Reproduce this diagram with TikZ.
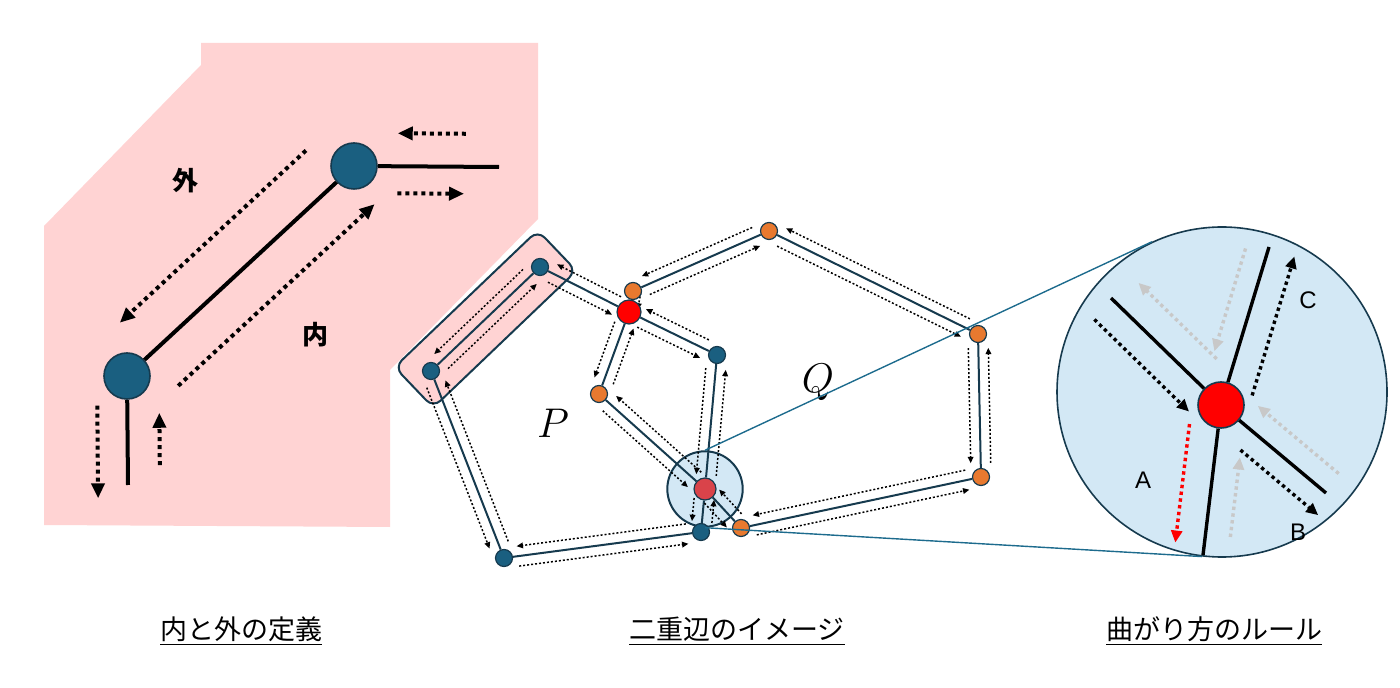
\documentclass[tikz,border=0pt]{standalone}
\usepackage{fontspec}
\usepackage{xcolor}
\usepackage{tikz}
\usetikzlibrary{arrows.meta, calc, positioning, backgrounds}

\newfontfamily\jp{Noto Sans CJK JP}
\newfontfamily\lat{Liberation Sans}

\definecolor{blush}{HTML}{FFD3D3}
\definecolor{vblue}{HTML}{1A5F80}
\definecolor{vline}{HTML}{163A4E}
\definecolor{vorange}{HTML}{E8792F}
\definecolor{hubred}{HTML}{FF0000}
\definecolor{lensred}{HTML}{D9434A}
\definecolor{lensblue}{HTML}{D3E8F5}
\definecolor{zoomline}{HTML}{1D6B8D}
\definecolor{ghost}{HTML}{C8C8C8}

\pgfdeclarelayer{paper}
\pgfdeclarelayer{wires}
\pgfsetlayers{paper,wires,main}

% pair of opposite dotted arrows along an edge
\newcommand{\twin}[3][7pt]{%
  \draw[trail, shorten <=#1, shorten >=#1] ($(#2)!5pt!-90:(#3)$) -- ($(#3)!5pt!90:(#2)$);
  \draw[trail, shorten <=#1, shorten >=#1] ($(#3)!5pt!-90:(#2)$) -- ($(#2)!5pt!90:(#3)$);}
% one dotted arrow beside a line: style, from, to, start, end, offset
\newcommand{\lane}[6]{%
  \draw[#1] ($(#2)!#4!(#3)!#6!90:(#2)$) -- ($(#2)!#5!(#3)!#6!90:(#2)$);}

\begin{document}
\begin{tikzpicture}[x=0.5pt, y=-0.5pt,
    stroke/.style={line width=2pt, black},
    bigtrail/.style={line width=2pt, dash pattern=on 2pt off 2pt, -{Triangle[length=7.5pt,width=6.5pt]}},
    trail/.style={line width=0.75pt, dash pattern=on 1pt off 1pt, -{Triangle[length=3.2pt,width=2.8pt]}},
    lanedot/.style={line width=1.7pt, dash pattern=on 1.7pt off 1.7pt, -{Triangle[length=6pt,width=5.5pt]}},
    lanered/.style={lanedot, hubred},
    laneghost/.style={lanedot, ghost},
    wire/.style={vline, line width=1pt},
    spoke/.style={line width=1.7pt, black},
    pv/.style={circle, fill=vblue, draw=vline, line width=0.6pt, minimum size=8.5pt, inner sep=0pt},
    qv/.style={pv, fill=vorange},
    rv/.style={pv, fill=hubred, minimum size=12pt},
    cv/.style={pv, fill=lensred, minimum size=11pt},
    bignode/.style={pv, line width=0.8pt, minimum size=23pt},
    hubnode/.style={pv, fill=hubred, line width=0.8pt, minimum size=23pt},
    lens/.style={circle, fill=lensblue, draw=vline, line width=1pt, inner sep=0pt},
    band/.style={rectangle, draw=vline, fill=blush, rounded corners=5pt, line width=1pt, inner sep=0pt},
    zoomwire/.style={zoomline, line width=0.7pt},
    side/.style={font=\jp\bfseries\fontsize{13}{13}\selectfont},
    caption/.style={font=\jp\fontsize{13.5}{16}\selectfont},
    tag/.style={font=\lat\fontsize{12}{12}\selectfont},
    poly/.style={font=\fontsize{21}{21}\selectfont}]
    \useasboundingbox (0,0) rectangle (1400,688);

    % Inside / outside definition
    \begin{pgfonlayer}{paper}
        \fill[blush] (201,43) -- (538,43) -- (538,219) -- (390,370) -- (390,527)
            -- (44,525) -- (44,226) -- (201,65) -- cycle;
    \end{pgfonlayer}
    \node[bignode] (l1) at (354,166) {};
    \node[bignode] (l2) at (127,376) {};
    \coordinate (l1end) at (499,167);
    \coordinate (l2end) at (128,485);
    \draw[stroke] (l1) -- (l2);
    \draw[stroke] (l1) -- (l1end);
    \draw[stroke] (l2) -- (l2end);
    \lane{bigtrail}{l1}{l2}{0.08}{0.9}{22pt}
    \lane{bigtrail}{l2}{l1}{0.1}{0.965}{21pt}
    \lane{bigtrail}{l1end}{l1}{0.23}{0.70}{16.5pt}
    \lane{bigtrail}{l1}{l1end}{0.30}{0.76}{13.5pt}
    \lane{bigtrail}{l2}{l2end}{0.27}{1.12}{15pt}
    \lane{bigtrail}{l2end}{l2}{0.18}{0.66}{16pt}
    \node[side] (outer) at (185,181) {外};
    \node[side] (inner) at (315,335) {内};

    % Double edges of P and Q
    \node[pv] (b1) at (540,267) {};
    \node[pv] (b2) at (431,371) {};
    \node[pv] (b3) at (504,558) {};
    \node[pv] (b4) at (701,532) {};
    \node[pv] (b5) at (717,355) {};
    \node[qv] (o1) at (769,231) {};
    \node[qv] (o2) at (633,291) {};
    \node[qv] (o3) at (599,394) {};
    \node[qv] (o4) at (978,334) {};
    \node[qv] (o5) at (981,477) {};
    \node[qv] (o6) at (741,528) {};
    \node[rv] (r1) at (629,312) {};
    \node[cv] (c) at (705,489) {};
    \begin{pgfonlayer}{paper}
        \node[band, rotate=43.7, minimum width=99pt, minimum height=28pt] (pair) at ($(b1)!0.5!(b2)$) {};
        \node[lens, minimum size=37.7pt] (lens) at (705,489) {};
    \end{pgfonlayer}
    \begin{pgfonlayer}{wires}
        \draw[wire] (b1) -- (b2) -- (b3) -- (b4) -- (c) -- (b5) -- (r1) -- (b1);
        \draw[wire] (o2) -- (o1) -- (o4) -- (o5) -- (o6) -- (c) -- (o3) -- (r1);
        \twin{b1}{b2} \twin{b2}{b3} \twin{b3}{b4} \twin[5pt]{b4}{c}
        \twin{c}{b5} \twin{b5}{r1} \twin{r1}{b1}
        \twin{o1}{o2} \twin{r1}{o3} \twin{o3}{c} \twin[5pt]{c}{o6}
        \twin{o6}{o5} \twin{o5}{o4} \twin{o4}{o1}
        \draw[trail, shorten >=2pt] ($(o2)!4pt!90:(r1)$) -- ($(r1)!4pt!-90:(o2)$);
    \end{pgfonlayer}
    \node[poly] (p) at (553,423) {$P$};
    \node[poly] (q) at (818,382) {$Q$};

    % Turning rule, zoomed
    \node[lens, line width=0.8pt, minimum size=165pt] (zoom) at (1222,392) {};
    \draw[zoomwire] (lens.north) -- (zoom.115.6);
    \draw[zoomwire] (lens.south) -- (zoom.263.4);
    \node[hubnode] (hub) at (1221,405) {};
    \coordinate (ul) at (1111,298);
    \coordinate (lr) at (1326,493);
    \coordinate (ut) at (1269,247);
    \coordinate (lb) at (1203,555);
    \draw[spoke] (ul) -- (hub) -- (lr);
    \draw[spoke] (ut) -- (hub) -- (lb);
    \lane{laneghost}{ut}{hub}{0.05}{0.70}{11pt}
    \lane{laneghost}{hub}{ul}{0.23}{0.94}{15pt}
    \lane{laneghost}{lr}{hub}{0.02}{0.79}{11.5pt}
    \lane{laneghost}{lb}{hub}{0.14}{0.67}{12.5pt}
    \lane{lanedot}{ul}{hub}{0.02}{0.88}{13.5pt}
    \lane{lanedot}{hub}{ut}{0.11}{0.99}{13.5pt}
    \lane{lanedot}{hub}{lr}{0.32}{1.06}{11pt}
    \lane{lanered}{hub}{lb}{0.15}{0.94}{14.5pt}
    \node[tag] (tagA) at (1143,480) {A};
    \node[tag] (tagB) at (1298,532) {B};
    \node[tag] (tagC) at (1308,300) {C};

    % Captions
    \node[caption] (cap1) at (241,631) {\underline{内と外の定義}};
    \node[caption] (cap2) at (737,631) {\underline{二重辺のイメージ}};
    \node[caption] (cap3) at (1214,631) {\underline{曲がり方のルール}};
\end{tikzpicture}
\end{document}
